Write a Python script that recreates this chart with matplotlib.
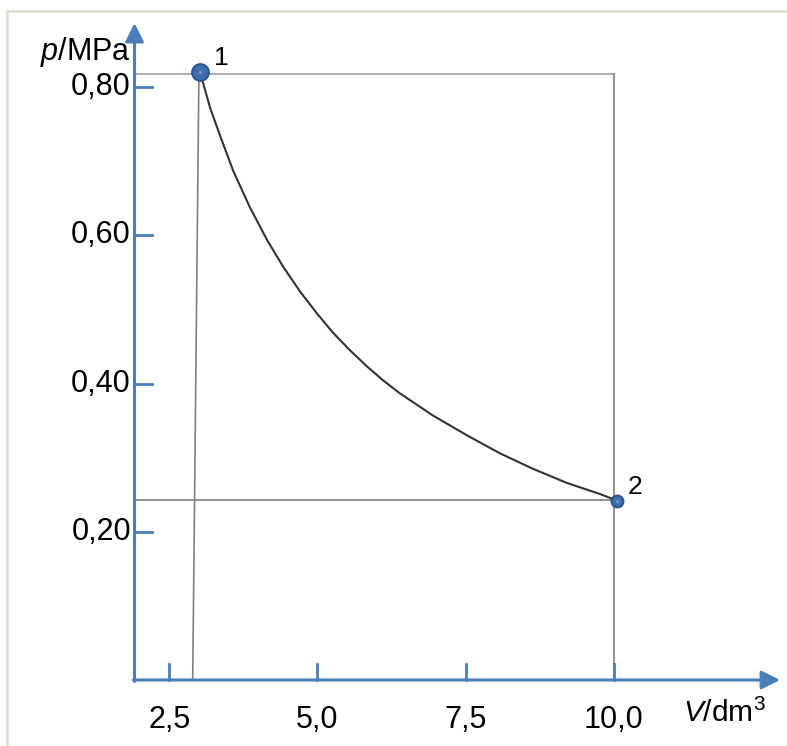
import matplotlib
matplotlib.use("Agg")
import matplotlib.pyplot as plt
from matplotlib.lines import Line2D

plt.rcParams['font.family'] = ['Liberation Sans', 'DejaVu Sans']
plt.rcParams['mathtext.fontset'] = 'custom'
plt.rcParams['mathtext.rm'] = 'Liberation Sans'
plt.rcParams['mathtext.it'] = 'Liberation Sans:italic'

# isotherm (V in dm3, p in MPa)
V_curve = [3.02, 3.19, 3.36, 3.58, 3.86, 4.15, 4.42, 4.71, 5.00, 5.26, 5.55, 5.84,
           6.10, 6.39, 6.95, 7.53, 8.08, 8.64, 9.21, 9.77, 10.06]
p_curve = [0.820, 0.772, 0.734, 0.687, 0.638, 0.594, 0.558, 0.524, 0.494, 0.469, 0.445, 0.423,
           0.405, 0.387, 0.357, 0.330, 0.306, 0.285, 0.266, 0.251, 0.242]

# state points
V_pts = [3.02, 10.06]
p_pts = [0.820, 0.242]
pt_names = ["1", "2"]

x_ticks = [2.5, 5.0, 7.5, 10.0]
x_labels = ["2,5", "5,0", "7,5", "10,0"]
y_ticks = [0.20, 0.40, 0.60, 0.80]
y_labels = ["0,20", "0,40", "0,60", "0,80"]

# axis origin and guide lines
V0 = 1.913
V_right = 10.015
p_top = 0.818
p_low = 0.243
V_left_top, V_left_bot = 3.00, 2.895

blue = '#4a7ebb'
grey = '#7f7f7f'

fig = plt.figure(figsize=(7.87, 7.46), dpi=100)
ax = fig.add_axes([0, 0, 1, 1])
ax.set_xlim(-0.358, 12.927)
ax.set_ylim(-0.0891, 0.9178)
ax.axis('off')

# frame remains (top and left)
fig.add_artist(Line2D([0.0089, 1.0], [0.9846, 0.9846], color='#dedccb', lw=1.8))
fig.add_artist(Line2D([0.0089, 0.0089], [0.0, 0.9846], color='#dedccb', lw=1.8))

# guide lines
ax.plot([V0, V_right], [p_top, p_top], color='#a0a0a0', lw=1.2)
ax.plot([V_right, V_right], [p_top, 0], color=grey, lw=1.2)
ax.plot([V0, V_right], [p_low, p_low], color=grey, lw=1.2)
ax.plot([V_left_top, V_left_bot], [p_top, 0], color=grey, lw=1.2)

# axes with arrows
ax.annotate('', xy=(12.81, 0), xytext=(V0 - 0.02, 0),
            arrowprops=dict(arrowstyle='-|>', color=blue, lw=2.2,
                            mutation_scale=28, shrinkA=0, shrinkB=0))
ax.annotate('', xy=(V0, (680 - 23) / 740.9), xytext=(V0, -0.002),
            arrowprops=dict(arrowstyle='-|>', color=blue, lw=2.2,
                            mutation_scale=28, shrinkA=0, shrinkB=0))

# ticks
for xt, lab in zip(x_ticks, x_labels):
    ax.plot([xt, xt], [0, 0.021], color=blue, lw=2)
    ax.text(xt, -0.0648, lab, fontsize=22, ha='center', va='baseline')
for yt, lab in zip(y_ticks, y_labels):
    ax.plot([V0, V0 + 0.29], [yt, yt], color=blue, lw=2)
    ax.text(1.853, yt, lab, fontsize=22, ha='right', va='center')

ax.text(1.853, 0.837, r'$p$/MPa', fontsize=22, ha='right', va='baseline')
ax.text(11.17, -0.0567, r'$V$/dm$^3$', fontsize=21.5, ha='left', va='baseline')

# curve and points
ax.plot(V_curve, p_curve, color='#333333', lw=1.5, zorder=3, solid_joinstyle='round')
ax.plot(V_pts[0], p_pts[0], 'o', ms=12, mfc='#3f6ead', mec='#2b5591', mew=1.5, zorder=4)
ax.plot(V_pts[1], p_pts[1], 'o', ms=8.5, mfc='#3f6ead', mec='#2b5591', mew=1.5, zorder=4)
ax.plot(V_pts, p_pts, '.', color='#6f95c8', ms=3, zorder=5)

ax.text(3.373, 0.8395, pt_names[0], fontsize=19, ha='center', va='center')
ax.text(10.36, 0.2605, pt_names[1], fontsize=19, ha='center', va='center')

fig.savefig('out.png', dpi=100)
